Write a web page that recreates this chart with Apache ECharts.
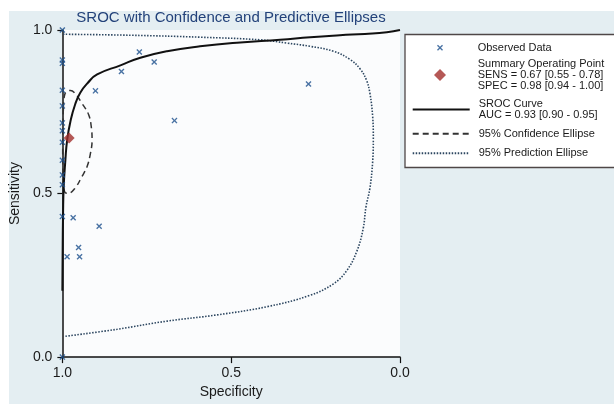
<!DOCTYPE html>
<html>
<head>
<meta charset="utf-8">
<script src="https://cdn.jsdelivr.net/npm/echarts@6/dist/echarts.min.js"></script>
<style>
html,body{margin:0;padding:0;background:#fff;}
#c{width:614px;height:404px;}
</style>
</head>
<body>
<div id="c"></div>
<script>
// ---- Data ----
var titleText = 'SROC with Confidence and Predictive Ellipses';
var xName = 'Specificity';
var yName = 'Sensitivity';

// Observed studies
var obsSpec = [1.0, 1.0, 1.0, 1.0, 1.0, 1.0, 1.0, 1.0, 1.0, 1.0, 1.0, 1.0, 1.0,
               0.968, 0.891, 0.952, 0.986, 0.949,
               0.902, 0.825, 0.772, 0.728, 0.668, 0.271];
var obsSens = [1.0, 0.908, 0.898, 0.816, 0.768, 0.716, 0.692, 0.657, 0.602, 0.557, 0.527, 0.430, 0.0,
               0.426, 0.400, 0.335, 0.307, 0.307,
               0.814, 0.873, 0.933, 0.902, 0.723, 0.835];

// Summary operating point
var sumSpec = [0.98];
var sumSens = [0.67];

// SROC curve
var srocSpec = [1.0, 0.999, 0.998, 0.996, 0.991, 0.986, 0.976, 0.962, 0.947, 0.925, 0.897, 0.828,
                0.769, 0.690, 0.592, 0.473, 0.355, 0.266, 0.178, 0.104, 0.039, 0.0];
var srocSens = [0.203, 0.343, 0.433, 0.522, 0.603, 0.662, 0.721, 0.773, 0.808, 0.838, 0.864, 0.892,
                0.915, 0.935, 0.950, 0.962, 0.970, 0.978, 0.984, 0.988, 0.993, 1.0];

// 95% confidence ellipse
var confSpec = [0.997, 0.992, 0.976, 0.962, 0.942, 0.922, 0.914, 0.912, 0.917, 0.927, 0.942, 0.962, 0.982, 0.993, 0.998, 0.999, 0.997];
var confSens = [0.761, 0.806, 0.815, 0.806, 0.776, 0.741, 0.701, 0.662, 0.622, 0.582, 0.552, 0.517, 0.501, 0.505, 0.550, 0.642, 0.761];

// 95% prediction ellipse (visible arc)
var predSpec = [0.998, 0.799, 0.592, 0.414, 0.335, 0.266, 0.197, 0.148, 0.118, 0.099, 0.089, 0.081, 0.079,
                0.081, 0.089, 0.101, 0.109, 0.128, 0.158, 0.197, 0.266, 0.394, 0.542, 0.690, 0.838, 0.996];
var predSens = [0.987, 0.984, 0.978, 0.970, 0.960, 0.950, 0.935, 0.910, 0.881, 0.846, 0.806, 0.736, 0.667,
                0.597, 0.517, 0.458, 0.393, 0.323, 0.264, 0.224, 0.189, 0.154, 0.129, 0.110, 0.085, 0.063];

var xTicks = [0, 0.5, 1.0];
var yTicks = [0, 0.5, 1.0];

var seriesNames = ['Observed Data', 'Summary Operating Point', 'SROC Curve', '95% Confidence Ellipse', '95% Prediction Ellipse'];
var legendLabels = [
  'Observed Data',
  'Summary Operating Point\nSENS = 0.67 [0.55 - 0.78]\nSPEC = 0.98 [0.94 - 1.00]',
  'SROC Curve\nAUC = 0.93 [0.90 - 0.95]',
  '95% Confidence Ellipse',
  '95% Prediction Ellipse'
];

function zip(a, b) { return a.map(function (v, i) { return [v, b[i]]; }); }

var FONT = '"Liberation Sans", Arial, sans-serif';
var crossPath = 'path://M0,1.6L1.6,0L5,3.4L8.4,0L10,1.6L6.6,5L10,8.4L8.4,10L5,6.6L1.6,10L0,8.4L3.4,5Z';

var chart = echarts.init(document.getElementById('c'), null, {renderer: 'canvas'});

function legendItem(idx, left, top, iw, ih, pad, icon, hideSymbol) {
  var d = {name: seriesNames[idx]};
  if (icon) d.icon = icon;
  var l = {
    left: left, top: top, padding: 0, orient: 'vertical',
    itemWidth: iw, itemHeight: ih, selectedMode: false,
    data: [d],
    formatter: function () { return legendLabels[idx]; },
    textStyle: {fontFamily: FONT, fontSize: 11, lineHeight: 11, color: '#1a1a1a', padding: [0, 0, 0, pad]}
  };
  if (hideSymbol) l.itemStyle = {opacity: 0};
  return l;
}

var option = {
  backgroundColor: '#e4eef2',
  animation: false,
  title: {
    text: titleText,
    left: 226, top: 5, textAlign: 'center',
    textStyle: {fontFamily: FONT, fontSize: 15, fontWeight: 'normal', color: '#23427a'}
  },
  graphic: [
    {type: 'rect', shape: {x: 0, y: 0, width: 614, height: 11}, style: {fill: '#ffffff'}, silent: true},
    {type: 'rect', shape: {x: 0, y: 0, width: 9, height: 404}, style: {fill: '#ffffff'}, silent: true},
    {type: 'rect', shape: {x: 405, y: 34.5, width: 230, height: 133}, style: {fill: '#ffffff', stroke: '#4f4747', lineWidth: 1.3}, silent: true}
  ],
  legend: [
    legendItem(0, 437, 42.2, 6, 6, 29.7, crossPath, false),
    legendItem(1, 434, 58.5, 12, 12, 26.7, 'diamond', false),
    legendItem(2, 411.7, 98.5, 57, 10, 4, null, true),
    legendItem(3, 411.7, 128.2, 57, 10, 4, null, true),
    legendItem(4, 411.7, 147.8, 57, 10, 4, null, true)
  ],
  grid: {
    left: 62, top: 30, width: 338, height: 335,
    show: true, backgroundColor: '#fbfcfd', borderWidth: 0, borderColor: 'transparent'
  },
  xAxis: {
    type: 'value', inverse: true, min: 0, max: 1, interval: 0.5,
    name: xName, nameLocation: 'middle', nameGap: 24,
    nameTextStyle: {fontFamily: FONT, fontSize: 14, color: '#1a1a1a'},
    axisLine: {show: true, onZero: false, lineStyle: {color: '#111', width: 1.5}},
    axisTick: {show: true, length: 6, lineStyle: {color: '#111', width: 1.2}},
    axisLabel: {margin: 9, fontFamily: FONT, fontSize: 14, color: '#1a1a1a',
      formatter: function (v) { return v.toFixed(1); }},
    splitLine: {show: false}
  },
  yAxis: {
    type: 'value', min: 0, max: 1, interval: 0.5, position: 'left',
    name: yName, nameLocation: 'middle', nameGap: 35,
    nameTextStyle: {fontFamily: FONT, fontSize: 14, color: '#1a1a1a'},
    axisLine: {show: true, onZero: false, lineStyle: {color: '#111', width: 1.5}},
    axisTick: {show: true, length: 5, lineStyle: {color: '#111', width: 1.2}},
    axisLabel: {margin: 10, fontFamily: FONT, fontSize: 14, color: '#1a1a1a',
      formatter: function (v) { return v.toFixed(1); }},
    splitLine: {show: false}
  },
  series: [
    {
      name: seriesNames[4], type: 'line', data: zip(predSpec, predSens),
      smooth: 0.4, symbol: 'none', z: 2,
      lineStyle: {color: '#2c4660', width: 1.6, type: [1.5, 1.5]},
      itemStyle: {color: '#2c4660'}
    },
    {
      name: seriesNames[3], type: 'line', data: zip(confSpec, confSens),
      smooth: 0.4, symbol: 'none', z: 2,
      lineStyle: {color: '#333333', width: 1.5, type: [6, 4]},
      itemStyle: {color: '#333333'}
    },
    {
      name: seriesNames[2], type: 'line', data: zip(srocSpec, srocSens),
      smooth: 0.5, symbol: 'none', z: 3,
      lineStyle: {color: '#111111', width: 2},
      itemStyle: {color: '#111111'}
    },
    {
      name: seriesNames[0], type: 'scatter', data: zip(obsSpec, obsSens),
      symbol: crossPath, symbolSize: 6, z: 4,
      itemStyle: {color: '#1b4f8c'}
    },
    {
      name: seriesNames[1], type: 'scatter', data: zip(sumSpec, sumSens),
      symbol: 'diamond', symbolSize: 11, z: 5,
      itemStyle: {color: '#a32e2c'}
    }
  ]
};
chart.setOption(option);
</script>
</body>
</html>
